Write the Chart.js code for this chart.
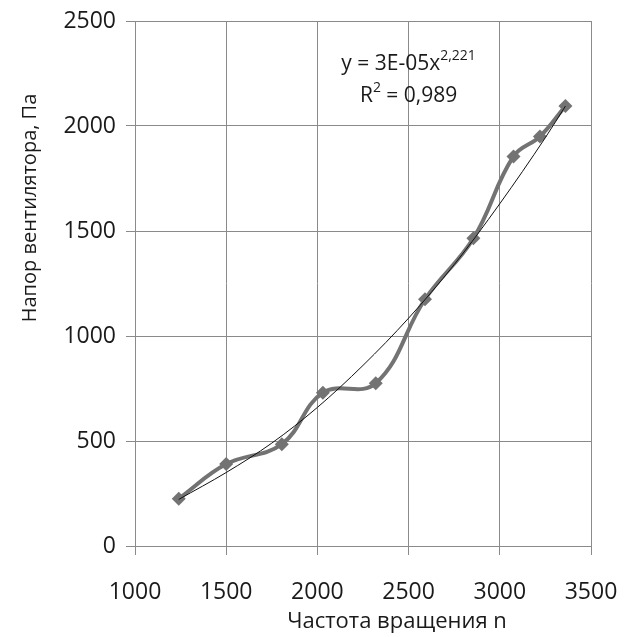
<!DOCTYPE html>
<html>
<head>
<meta charset="utf-8">
<script src="https://cdn.jsdelivr.net/npm/chart.js@4.4.1/dist/chart.umd.min.js"></script>
<style>
  html, body { margin: 0; padding: 0; background: #ffffff; }
  #wrap { width: 632px; height: 637px; }
</style>
</head>
<body>
<div id="wrap"><canvas id="chart" width="632" height="637"></canvas></div>
<script>
// measured data (rotation speed vs fan pressure)
const speedN = [1240, 1500, 1805, 2030, 2320, 2590, 2855, 3075, 3220, 3360];
const pressure = [225, 390, 485, 730, 775, 1175, 1465, 1855, 1950, 2095];

// power trendline
const trendX = [1240, 1500, 1750, 2000, 2250, 2500, 2750, 3000, 3250, 3360];
const trendY = [222, 350, 490, 660, 860, 1085, 1340, 1630, 1945, 2095];

const xTicks = [1000, 1500, 2000, 2500, 3000, 3500];
const yTicks = [0, 500, 1000, 1500, 2000, 2500];

const xTitle = 'Частота вращения n';
const yTitle = 'Напор вентилятора, Па';
const eqLine1 = 'y = 3E-05x';
const eqSup = '2,221';
const eqLine2a = 'R';
const eqLine2b = ' = 0,989';

const FONT = '"Open Sans", "DejaVu Sans", sans-serif';
const gridColor = '#8a8a8a';
const lineColor = '#737373';

const toPoints = (xs, ys) => xs.map((x, i) => ({ x: x, y: ys[i] }));

// titles + trendline equation drawn by hand (Excel puts them off-centre)
const textPlugin = {
    id: 'excelText',
    afterDraw(chart) {
        const ctx = chart.ctx;
        ctx.save();
        ctx.fillStyle = '#1a1a1a';
        ctx.textBaseline = 'middle';

        // x title
        ctx.font = '22px ' + FONT;
        ctx.textAlign = 'center';
        ctx.fillText(xTitle, 397, 622);

        // y title, rotated
        ctx.font = '20px ' + FONT;
        ctx.save();
        ctx.translate(30, 208);
        ctx.rotate(-Math.PI / 2);
        ctx.fillText(yTitle, 0, 0);
        ctx.restore();

        // equation
        const cx = chart.scales.x.getPixelForValue(2500);
        ctx.font = '21px ' + FONT;
        const w1 = ctx.measureText(eqLine1).width;
        ctx.font = '14px ' + FONT;
        const ws = ctx.measureText(eqSup).width;
        let x0 = cx - (w1 + ws) / 2;
        ctx.textAlign = 'left';
        ctx.font = '21px ' + FONT;
        ctx.fillText(eqLine1, x0, 64);
        ctx.font = '14px ' + FONT;
        ctx.fillText(eqSup, x0 + w1, 56);

        ctx.font = '21px ' + FONT;
        const wa = ctx.measureText(eqLine2a).width;
        const wb = ctx.measureText(eqLine2b).width;
        ctx.font = '14px ' + FONT;
        const w2 = ctx.measureText('2').width;
        x0 = cx - (wa + w2 + wb) / 2;
        ctx.font = '21px ' + FONT;
        ctx.fillText(eqLine2a, x0, 96);
        ctx.font = '14px ' + FONT;
        ctx.fillText('2', x0 + wa, 88);
        ctx.font = '21px ' + FONT;
        ctx.fillText(eqLine2b, x0 + wa + w2, 96);
        ctx.restore();
    }
};

new Chart(document.getElementById('chart').getContext('2d'), {
    type: 'line',
    data: {
        datasets: [
            {
                label: 'Напор',
                data: toPoints(speedN, pressure),
                borderColor: lineColor,
                backgroundColor: lineColor,
                borderWidth: 4,
                tension: 0.4,
                pointStyle: 'rectRot',
                pointRadius: 7,
                pointBorderWidth: 0,
                order: 2
            },
            {
                label: 'trend',
                data: toPoints(trendX, trendY),
                borderColor: '#111111',
                borderWidth: 1,
                cubicInterpolationMode: 'monotone',
                pointRadius: 0,
                order: 1
            }
        ]
    },
    options: {
        responsive: false,
        animation: false,
        layout: { padding: { top: 21, right: 41, left: 0, bottom: 0 } },
        plugins: {
            legend: { display: false },
            tooltip: { enabled: false }
        },
        scales: {
            x: {
                type: 'linear',
                min: 1000,
                max: 3500,
                afterBuildTicks: (s) => { s.ticks = xTicks.map(v => ({ value: v })); },
                afterFit: (s) => { s.height = 91; s.paddingLeft = 0; s.paddingRight = 0; },
                grid: { color: gridColor, lineWidth: 1, tickLength: 9 },
                border: { color: gridColor },
                ticks: {
                    color: '#1a1a1a',
                    font: { family: FONT, size: 23 },
                    padding: 24,
                    callback: (v) => String(v)
                }
            },
            y: {
                min: 0,
                max: 2500,
                afterBuildTicks: (s) => { s.ticks = yTicks.map(v => ({ value: v })); },
                afterFit: (s) => { s.width = 135; s.paddingTop = 0; s.paddingBottom = 0; },
                grid: { color: gridColor, lineWidth: 1, tickLength: 9 },
                border: { color: gridColor },
                ticks: {
                    color: '#1a1a1a',
                    font: { family: FONT, size: 23 },
                    padding: 10,
                    callback: (v) => String(v)
                }
            }
        }
    },
    plugins: [textPlugin]
});
</script>
</body>
</html>
